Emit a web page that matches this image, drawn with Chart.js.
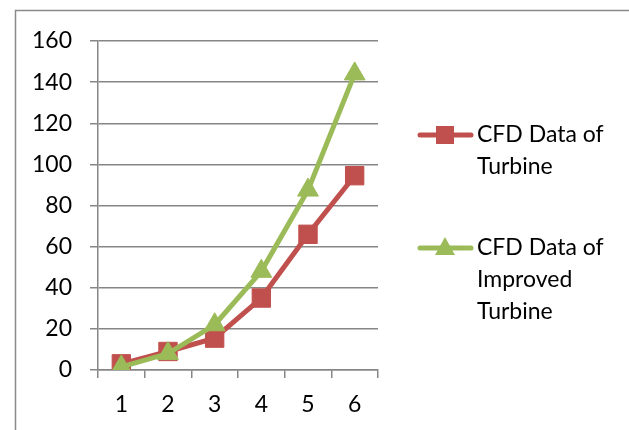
<!DOCTYPE html>
<html>
<head>
<meta charset="utf-8">
<script src="https://cdn.jsdelivr.net/npm/chart.js@4/dist/chart.umd.min.js"></script>
<style>
  html, body { margin: 0; padding: 0; background: #fff; }
  #wrap { width: 629px; height: 430px; position: relative; }
</style>
</head>
<body>
<div id="wrap"><canvas id="c" width="629" height="430"></canvas></div>
<script>
const categories = ["1", "2", "3", "4", "5", "6"];
const turbine = [3, 9, 15.5, 35, 66, 94.5];
const improvedTurbine = [1.5, 8, 22, 48, 87.5, 144];
const yTicks = [0, 20, 40, 60, 80, 100, 120, 140, 160];
const seriesLabels = [["CFD Data of", "Turbine"], ["CFD Data of", "Improved", "Turbine"]];

const RED = "#C0504D";
const GREEN = "#9BBB59";
const GRID = "#868686";
const FONT = "Lato, 'Open Sans', sans-serif";

const framePlugin = {
  id: "frame",
  beforeDraw(chart) {
    const ctx = chart.ctx;
    ctx.save();
    ctx.fillStyle = "#fff";
    ctx.fillRect(0, 0, chart.width, chart.height);
    ctx.strokeStyle = "#8a8a8a";
    ctx.lineWidth = 1.5;
    ctx.beginPath();
    ctx.moveTo(15.5, chart.height);
    ctx.lineTo(15.5, 10.5);
    ctx.lineTo(chart.width, 10.5);
    ctx.stroke();
    ctx.restore();
  }
};

const legendPlugin = {
  id: "multiLegend",
  afterDraw(chart) {
    const ctx = chart.ctx;
    const entries = [
      { ds: 0, y: 135 },
      { ds: 1, y: 248 }
    ];
    ctx.save();
    entries.forEach(e => {
      const ds = chart.data.datasets[e.ds];
      ctx.strokeStyle = ds.borderColor;
      ctx.lineWidth = 5;
      ctx.lineCap = "round";
      ctx.beginPath();
      ctx.moveTo(420, e.y);
      ctx.lineTo(471, e.y);
      ctx.stroke();
      ctx.fillStyle = ds.pointBackgroundColor;
      ctx.beginPath();
      if (ds.pointStyle === "rect") {
        ctx.rect(445 - 9, e.y - 9, 18, 18);
      } else {
        ctx.moveTo(445, e.y - 11);
        ctx.lineTo(455, e.y + 7);
        ctx.lineTo(435, e.y + 7);
        ctx.closePath();
      }
      ctx.fill();
      ctx.fillStyle = "#000";
      ctx.font = "23px " + FONT;
      ctx.textAlign = "left";
      ctx.textBaseline = "middle";
      seriesLabels[e.ds].forEach((line, i) => {
        ctx.fillText(line, 477, e.y + i * 32);
      });
    });
    ctx.restore();
  }
};

new Chart(document.getElementById("c"), {
  type: "line",
  data: {
    labels: categories,
    datasets: [
      {
        label: seriesLabels[0].join(" "),
        data: turbine,
        borderColor: RED,
        backgroundColor: RED,
        pointBackgroundColor: RED,
        pointBorderColor: RED,
        borderWidth: 5,
        pointStyle: "rect",
        pointRadius: 13,
        pointBorderWidth: 1,
        tension: 0,
        order: 1
      },
      {
        label: seriesLabels[1].join(" "),
        data: improvedTurbine,
        borderColor: GREEN,
        backgroundColor: GREEN,
        pointBackgroundColor: GREEN,
        pointBorderColor: GREEN,
        borderWidth: 5,
        pointStyle: "triangle",
        pointRadius: 12,
        pointBorderWidth: 1,
        tension: 0,
        order: 0
      }
    ]
  },
  options: {
    responsive: false,
    animation: false,
    devicePixelRatio: 1,
    layout: { padding: { left: 0, top: 41, right: 251, bottom: 0 } },
    plugins: { legend: { display: false }, tooltip: { enabled: false } },
    scales: {
      x: {
        offset: true,
        grid: { display: true, drawOnChartArea: false, drawTicks: true, tickLength: 8, color: GRID, tickColor: GRID, lineWidth: 1.5, offset: true },
        border: { display: true, color: GRID, width: 1.5 },
        ticks: { color: "#000", font: { family: FONT, size: 23 }, padding: 13, maxRotation: 0 },
        afterFit(scale) { scale.height = 60; }
      },
      y: {
        min: 0,
        max: 160,
        afterBuildTicks(scale) { scale.ticks = yTicks.map(v => ({ value: v })); },
        grid: { color: GRID, tickColor: GRID, lineWidth: 1.5, tickLength: 8, drawTicks: true },
        border: { display: true, color: GRID, width: 1.5 },
        ticks: { color: "#000", font: { family: FONT, size: 23 }, padding: 18 },
        afterFit(scale) { scale.width = 98; }
      }
    }
  },
  plugins: [framePlugin, legendPlugin]
});
</script>
</body>
</html>
